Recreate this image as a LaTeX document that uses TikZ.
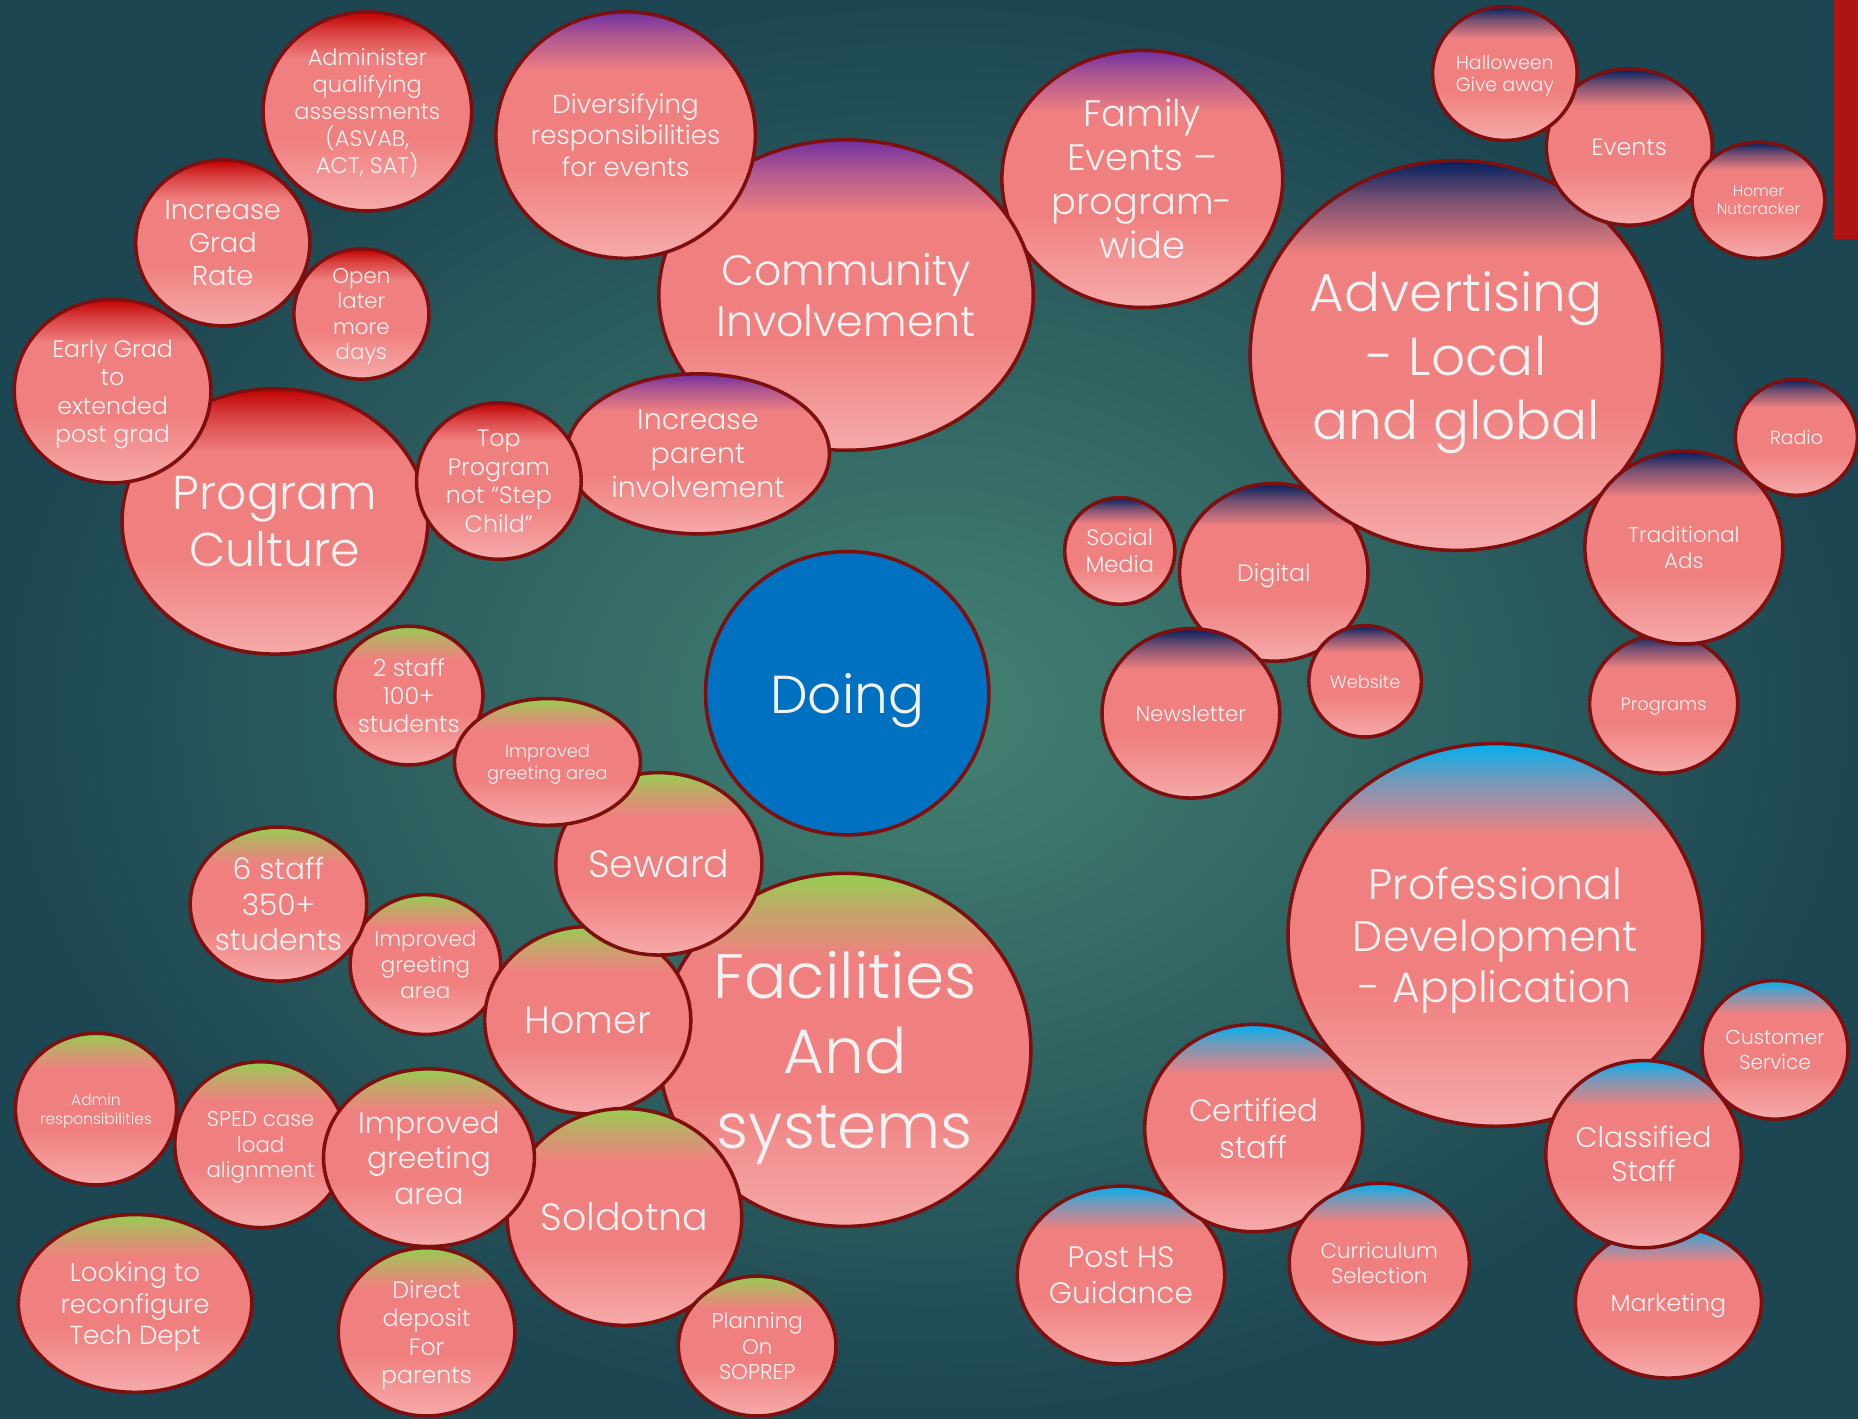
\documentclass[tikz,border=0pt]{standalone}
\usepackage{fontspec}
\setmainfont{Poppins Light}
\usetikzlibrary{shapes.geometric}

\definecolor{salmon}{RGB}{240,128,128}
\definecolor{pinklo}{RGB}{246,170,170}
\definecolor{topred}{RGB}{192,0,0}
\definecolor{topviolet}{RGB}{112,48,160}
\definecolor{topnavy}{RGB}{0,32,96}
\definecolor{topsky}{RGB}{0,176,240}
\definecolor{topgreen}{RGB}{146,208,80}
\definecolor{rim}{RGB}{125,15,15}
\definecolor{ink}{RGB}{242,242,242}
\definecolor{doingblue}{RGB}{0,112,192}
\definecolor{bglight}{RGB}{68,130,114}
\definecolor{bgdark}{RGB}{28,70,82}
\definecolor{barred}{RGB}{175,20,20}

% font size given in picture pixels
\newcommand\fz[1]{\fontsize{\fpeval{#1*0.2845}pt}{\fpeval{#1*0.2845*1.2}pt}\selectfont}
% bubble shading: light pink bottom, coloured cap on top
\newcommand\mkshade[2]{%
  \pgfdeclareverticalshading{#1}{100bp}{color(0bp)=(pinklo); color(25bp)=(pinklo);
    color(43bp)=(salmon); color(63bp)=(salmon); color(70bp)=(#2!50!salmon);
    color(75bp)=(#2); color(100bp)=(#2)}}
\mkshade{sred}{topred}
\mkshade{sviolet}{topviolet}
\mkshade{snavy}{topnavy}
\mkshade{ssky}{topsky}
\mkshade{sgreen}{topgreen}

\begin{document}
\begin{tikzpicture}[x=0.01cm, y=-0.01cm,
  bub/.style={ellipse, draw=rim, line width=0.85pt, shade, shading=#1, inner sep=0pt},
  wh/.style 2 args={minimum width=#1*0.01cm, minimum height=#2*0.01cm},
  txt/.style={text=ink, align=center, inner sep=0pt, text depth=0pt},
  fs/.style={font=\fz{#1}}]

\useasboundingbox (0,0) rectangle (1568,1197);
\shade[inner color=bglight, outer color=bgdark] (0,0) rectangle (1568,1197);
\fill[barred] (1548,0) rectangle (1568,202);

% program culture
\node[bub=sred, wh={258}{224}, label={[txt,fs=40]center:{Program\\Culture}}] (culture) at (232,440) {};
\node[bub=sred, wh={166}{155}, label={[txt,fs=20]center:{Early Grad\\to\\extended\\post grad}}] (early) at (95,330) {};
\node[bub=sred, wh={114}{110}, label={[txt,fs=18]center:{Open\\later\\more\\days}}] (later) at (305,265) {};
\node[bub=sred, wh={147}{140}, label={[txt,fs=23]center:{Increase\\Grad\\Rate}}] (grad) at (188,205) {};
\node[bub=sred, wh={176}{168}, label={[txt,fs=19]center:{Administer\\qualifying\\assessments\\(ASVAB,\\ACT, SAT)}}] (assess) at (310,94) {};

% community involvement
\node[bub=sviolet, wh={237}{217}, label={[txt,fs=31]center:{Family\\Events –\\program-\\wide}}] (family) at (964,151) {};
\node[bub=sviolet, wh={316}{262}, label={[txt,fs=36]center:{Community\\Involvement}}] (community) at (714,249) {};
\node[bub=sviolet, wh={219}{208}, label={[txt,fs=22]center:{Diversifying\\responsibilities\\for events}}] (diverse) at (528,114) {};
\node[bub=sviolet, wh={222}{135}, label={[txt,fs=24]center:{Increase\\parent\\involvement}}] (parent) at (589,383) {};
\node[bub=sred, wh={139}{132}, label={[txt,fs=20]center:{Top\\Program\\not “Step\\Child”}}] (toprog) at (421,406) {};

% advertising
\node[bub=snavy, wh={159}{150}, label={[txt,fs=20]center:Digital}] (digital) at (1075,483) {};
\node[bub=snavy, wh={93}{90}, label={[txt,fs=19]center:{Social\\Media}}] (social) at (945,465) {};
\node[bub=snavy, wh={348}{329}, label={[txt,fs=45]center:{Advertising\\- Local\\and global}}] (advert) at (1229,300) {};
\node[bub=snavy, wh={150}{143}, label={[txt,fs=18]center:Newsletter}] (newsletter) at (1005,602) {};
\node[bub=snavy, wh={95}{94}, label={[txt,fs=15]center:Website}] (website) at (1152,575) {};
\node[bub=snavy, wh={125}{117}, label={[txt,fs=15]center:Programs}] (programs) at (1404,594) {};
\node[bub=snavy, wh={167}{163}, label={[txt,fs=18]center:{Traditional\\Ads}}] (tradads) at (1421,462) {};
\node[bub=snavy, wh={103}{98}, label={[txt,fs=16]center:Radio}] (radio) at (1516,369) {};
\node[bub=snavy, wh={140}{132}, label={[txt,fs=20]center:Events}] (events) at (1375,124) {};
\node[bub=snavy, wh={122}{113}, label={[txt,fs=16]center:{Halloween\\Give away}}] (halloween) at (1270,62) {};
\node[bub=snavy, wh={112}{98}, label={[txt,fs=13]center:{Homer\\Nutcracker}}] (nutcracker) at (1484,169) {};

% centre
\node[circle, draw=rim, fill=doingblue, line width=0.85pt, minimum size=2.39cm, txt, fs=45] (doing) at (715,585) {Doing};

% professional development
\node[bub=ssky, wh={157}{128}, label={[txt,fs=20]center:Marketing}] (marketing) at (1408,1099) {};
\node[bub=ssky, wh={123}{117}, label={[txt,fs=17]center:{Customer\\Service}}] (customer) at (1498,886) {};
\node[bub=ssky, wh={350}{323}, label={[txt,fs=36]center:{Professional\\Development\\- Application}}] (profdev) at (1262,789) {};
\node[bub=ssky, wh={165}{158}, label={[txt,fs=24]center:{Classified\\Staff}}] (classified) at (1387,974) {};
\node[bub=ssky, wh={175}{150}, label={[txt,fs=25]center:{Post HS\\Guidance}}] (posths) at (946,1076) {};
\node[bub=ssky, wh={184}{175}, label={[txt,fs=26]center:{Certified\\staff}}] (certified) at (1058,952) {};
\node[bub=ssky, wh={152}{135}, label={[txt,fs=18]center:{Curriculum\\Selection}}] (curriculum) at (1164,1066) {};

% facilities
\node[bub=sgreen, wh={314}{298}, label={[txt,fs=53]center:{Facilities\\And\\systems}}] (facilities) at (713,886) {};
\node[bub=sgreen, wh={127}{118}, label={[txt,fs=18]center:{Improved\\greeting\\area}}] (greetmid) at (359,814) {};
\node[bub=sgreen, wh={149}{130}, label={[txt,fs=25]center:{6 staff\\350+\\students}}] (sixstaff) at (235,763) {};
\node[bub=sgreen, wh={174}{158}, label={[txt,fs=32]center:Homer}] (homer) at (496,861) {};
\node[bub=sgreen, wh={198}{183}, label={[txt,fs=32]center:Soldotna}] (soldotna) at (527,1027) {};
\node[bub=sgreen, wh={174}{154}, label={[txt,fs=32]center:Seward}] (seward) at (556,729) {};
\node[bub=sgreen, wh={125}{117}, label={[txt,fs=20]center:{2 staff\\100+\\students}}] (twostaff) at (345,587) {};
\node[bub=sgreen, wh={157}{107}, label={[txt,fs=15]center:{Improved\\greeting area}}] (greettop) at (462,643) {};
\node[bub=sgreen, wh={145}{140}, label={[txt,fs=18]center:{SPED case\\load\\alignment}}] (sped) at (220,966) {};
\node[bub=sgreen, wh={178}{150}, label={[txt,fs=25]center:{Improved\\greeting\\area}}] (greetbig) at (362,977) {};
\node[bub=sgreen, wh={136}{128}, label={[txt,fs=13]center:{Admin\\responsibilities}}] (adminresp) at (81,936) {};
\node[bub=sgreen, wh={197}{150}, label={[txt,fs=22]center:{Looking to\\reconfigure\\Tech Dept}}] (techdept) at (114,1100) {};
\node[bub=sgreen, wh={149}{142}, label={[txt,fs=20]center:{Direct\\deposit\\For\\parents}}] (deposit) at (360,1124) {};
\node[bub=sgreen, wh={133}{118}, label={[txt,fs=18]center:{Planning\\On\\SOPREP}}] (soprep) at (639,1136) {};

\end{tikzpicture}
\end{document}
